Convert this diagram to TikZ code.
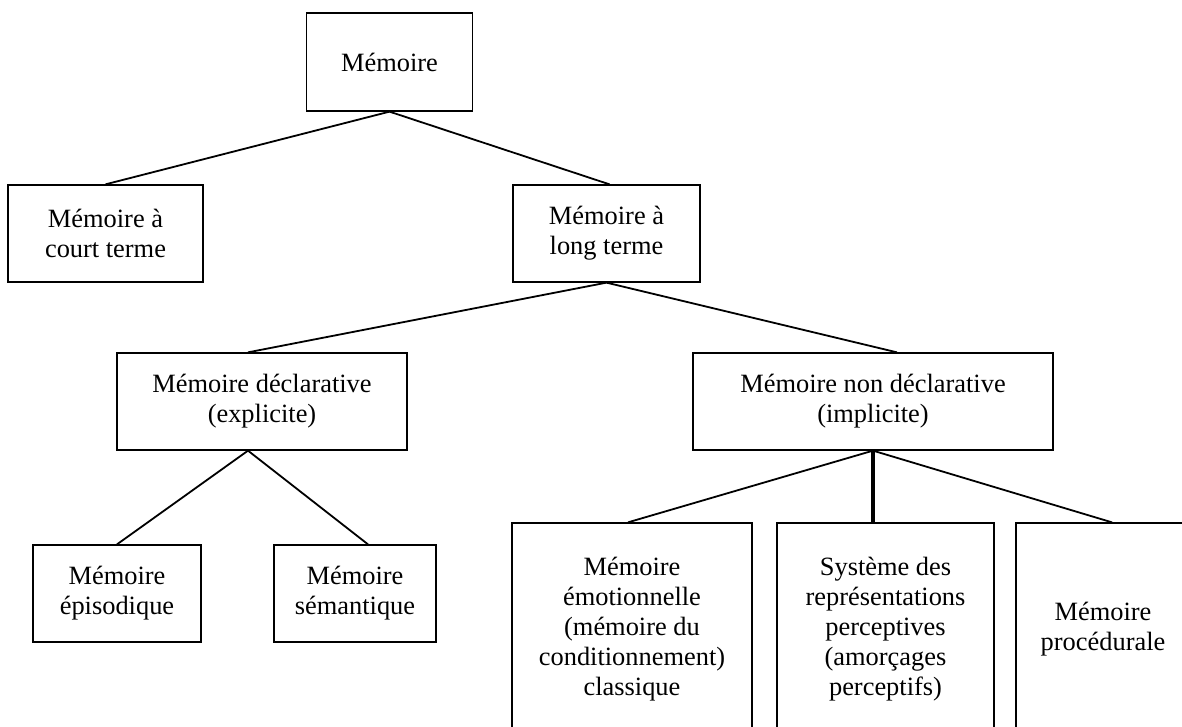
\documentclass[tikz,border=0pt]{standalone}
\usepackage{fontspec}
\setmainfont{Liberation Serif}
\begin{document}
\begin{tikzpicture}[x=1pt,y=-1pt,
  box/.style={draw, line width=1.3pt, align=center, inner sep=0pt,
    font=\fontsize{26.4}{30}\selectfont},
  link/.style={line width=1.8pt},
  thicklink/.style={line width=3.2pt}]
\useasboundingbox (0,0) rectangle (1182,727);
\clip (0,0) rectangle (1182,727);
\fill[white] (0,0) rectangle (1182,727);
% level 0
\node[box, minimum width=166pt, minimum height=98pt] (mem) at (389.5,62) {Mémoire};
% level 1
\node[box, minimum width=195pt, minimum height=97pt] (court) at (105.5,233.5) {Mémoire à\\court terme};
\node[box, minimum width=187pt, minimum height=97pt] (long) at (606.5,233.5) {Mémoire à\\long terme};
% level 2
\node[box, minimum width=290pt, minimum height=97pt] (decl) at (262,401.5) {Mémoire déclarative\\(explicite)};
\node[box, minimum width=360pt, minimum height=97pt] (nondecl) at (873,401.5) {Mémoire non déclarative\\(implicite)};
% level 3
\node[box, minimum width=168pt, minimum height=97pt] (epi) at (117,593.5) {Mémoire\\épisodique};
\node[box, minimum width=162pt, minimum height=97pt] (sem) at (355,593.5) {Mémoire\\sémantique};
\node[box, minimum width=240pt, minimum height=212pt] (emo) at (632,629) {Mémoire\\émotionnelle\\(mémoire du\\conditionnement)\\classique};
\node[box, minimum width=217pt, minimum height=212pt] (sys) at (885.5,629) {Système des\\représentations\\perceptives\\(amorçages\\perceptifs)};
\node[box, minimum width=174pt, minimum height=212pt] (proc) at (1103,629) {Mémoire\\procédurale};
% connectors
\coordinate (declapex) at ([xshift=-14pt]decl.south);
\draw[link] (mem.south) -- (court.north);
\draw[link] (mem.south) -- ([xshift=3pt]long.north);
\draw[link] (long.south) -- ([xshift=-14pt]decl.north);
\draw[link] (long.south) -- ([xshift=24pt]nondecl.north);
\draw[link] (declapex) -- (epi.north);
\draw[link] (declapex) -- ([xshift=13pt]sem.north);
\draw[link] (nondecl.south) -- ([xshift=-4pt]emo.north);
\draw[thicklink] (nondecl.south) -- (nondecl.south |- sys.north);
\draw[link] (nondecl.south) -- ([xshift=9pt]proc.north);
\end{tikzpicture}
\end{document}
